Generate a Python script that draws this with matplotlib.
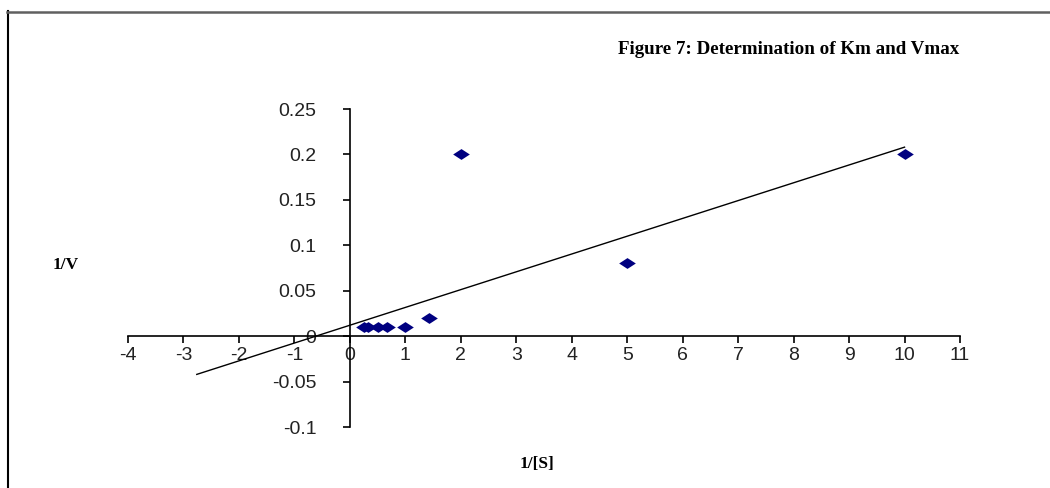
import matplotlib
matplotlib.use("Agg")
import matplotlib.pyplot as plt
from matplotlib.lines import Line2D
import numpy as np

# Data
inv_s = [0.25, 0.333, 0.5, 0.667, 1.0, 1.43, 2.0, 5.0, 10.0]
inv_v = [0.01, 0.01, 0.01, 0.01, 0.01, 0.02, 0.20, 0.08, 0.20]

# Trendline as drawn (slope / intercept), forecast backward
trend_slope = 0.0196
trend_intercept = 0.012
trend_x_range = [-2.76, 10.0]

x_ticks = list(range(-4, 12))
y_ticks = [-0.1, -0.05, 0, 0.05, 0.1, 0.15, 0.2, 0.25]
y_tick_labels = ["-0.1", "-0.05", "0", "0.05", "0.1", "0.15", "0.2", "0.25"]

title = "Figure 7: Determination of Km and Vmax"
xlabel = "1/[S]"
ylabel = "1/V"

W, H = 1050, 488
fig = plt.figure(figsize=(W / 100, H / 100), dpi=100)
ax = fig.add_axes([128 / W, 1 - 427 / H, (960 - 128) / W, (427 - 109) / H])
ax.set_xlim(-4, 11)
ax.set_ylim(-0.1, 0.25)

for s in ["top", "right"]:
    ax.spines[s].set_visible(False)
ax.spines["left"].set_position(("data", 0))
ax.spines["bottom"].set_position(("data", 0))
ax.spines["left"].set_linewidth(1.2)
ax.spines["bottom"].set_linewidth(1.2)

ax.set_xticks(x_ticks)
ax.set_xticklabels([str(t) for t in x_ticks])
ax.set_yticks(y_ticks)
ax.set_yticklabels(y_tick_labels)
ax.tick_params(axis="x", direction="out", length=5, width=1.2, pad=3,
               labelsize=14)
ax.tick_params(axis="y", direction="out", length=5, width=1.2, pad=19,
               labelsize=14)
for lab in ax.get_xticklabels() + ax.get_yticklabels():
    lab.set_fontfamily("Liberation Sans")
    lab.set_color("#222222")

xs = np.array(trend_x_range)
ax.plot(xs, trend_slope * xs + trend_intercept, color="black", lw=1.0,
        zorder=2, clip_on=False)

diamond = [(-1, 0), (0, 0.65), (1, 0), (0, -0.65), (-1, 0)]
ax.plot(inv_s, inv_v, linestyle="none", marker=diamond, markersize=12,
        color="#000080", markeredgewidth=0, zorder=3, clip_on=False)

fig.text(789 / W, 1 - 50 / H, title, ha="center", va="center",
         fontsize=13.7, fontweight="bold", family="Liberation Serif")
fig.text(66 / W, 1 - 265 / H, ylabel, ha="center", va="center",
         fontsize=12.5, fontweight="bold", family="Liberation Serif")
fig.text(537 / W, 1 - 464 / H, xlabel, ha="center", va="center",
         fontsize=12.5, fontweight="bold", family="Liberation Serif")

# Outer frame (left and top edges visible)
fig.add_artist(Line2D([7.5 / W, 7.5 / W], [0, 1 - 11 / H], color="black",
                      lw=1.5, transform=fig.transFigure))
fig.add_artist(Line2D([7 / W, 1], [1 - 11.5 / H, 1 - 11.5 / H],
                      color="#606060", lw=1.8, transform=fig.transFigure))

fig.savefig("out.png", dpi=100)
